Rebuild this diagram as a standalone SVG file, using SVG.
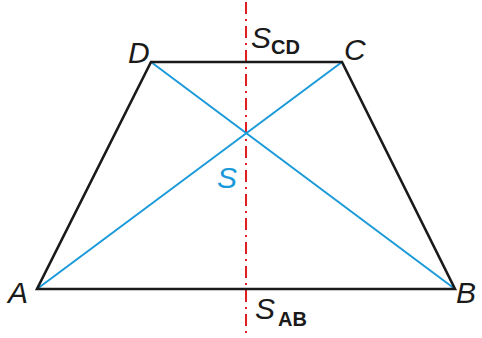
<svg xmlns="http://www.w3.org/2000/svg" width="482" height="338" viewBox="0 0 482 338">
<style>
.edge{stroke:#1a1a1a;stroke-width:2.6;fill:none;stroke-linejoin:miter}
.diag{stroke:#1a9ad9;stroke-width:2;fill:none}
.axis{stroke:#e02020;stroke-width:2;stroke-dasharray:12 5 2 5;fill:none}
.lbl{font-family:"Liberation Sans",Arial,sans-serif;font-style:italic;font-size:30px;fill:#1a1a1a}
.sub{font-family:"Liberation Sans",Arial,sans-serif;font-weight:bold;font-size:20px;fill:#1a1a1a}
</style>
<rect width="482" height="338" fill="#ffffff"/>
<g id="connectors">
<line class="axis" x1="246" y1="2" x2="246" y2="338"/>
<line class="diag" x1="37" y1="289" x2="342" y2="62"/>
<line class="diag" x1="151" y1="62" x2="455" y2="289"/>
<polygon class="edge" points="37,289 455,289 342,62 151,62"/>
</g>
<g id="A"><text class="lbl" x="8" y="303">A</text></g>
<g id="B"><text class="lbl" x="456" y="303">B</text></g>
<g id="C"><text class="lbl" x="344" y="60">C</text></g>
<g id="D"><text class="lbl" x="128" y="63">D</text></g>
<g id="S"><text class="lbl" x="217" y="188" style="fill:#1a9ad9">S</text></g>
<g id="SCD"><text class="lbl" x="251" y="48">S</text><text class="sub" x="271" y="54">CD</text></g>
<g id="SAB"><text class="lbl" x="255" y="319">S</text><text class="sub" x="278" y="326">AB</text></g>
</svg>
